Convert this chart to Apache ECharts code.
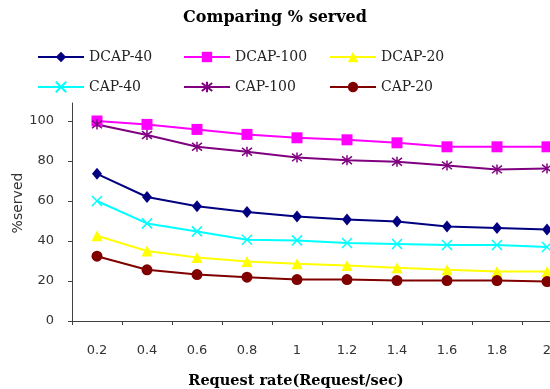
<!DOCTYPE html>
<html>
<head>
<meta charset="utf-8">
<script src="https://cdn.jsdelivr.net/npm/echarts@6/dist/echarts.min.js"></script>
<style>html,body{margin:0;padding:0;background:#fff;}#c{width:550px;height:389px;}</style>
</head>
<body>
<div id="c"></div>
<script>
const categories = ['0.2','0.4','0.6','0.8','1','1.2','1.4','1.6','1.8','2'];
const dcap40  = [73.6, 62.0, 57.4, 54.5, 52.2, 50.8, 49.7, 47.2, 46.5, 45.7];
const dcap100 = [100.0, 98.3, 95.8, 93.3, 91.6, 90.6, 89.1, 87.1, 87.1, 87.1];
const dcap20  = [42.6, 35.0, 31.8, 29.8, 28.6, 27.8, 26.6, 25.6, 24.7, 24.7];
const cap40   = [60.0, 48.8, 44.8, 40.6, 40.3, 39.0, 38.5, 38.0, 38.0, 37.0];
const cap100  = [98.3, 93.0, 87.1, 84.6, 81.8, 80.4, 79.6, 77.8, 75.8, 76.3];
const cap20   = [32.4, 25.6, 23.2, 21.9, 20.7, 20.7, 20.2, 20.2, 20.2, 19.7];
const yTicks = [0, 20, 40, 60, 80, 100];

const chart = echarts.init(document.getElementById('c'), null, {renderer: 'canvas'});

function mk(name, data, color, symbol, size, stroke) {
  return {
    name: name, type: 'line', data: data, symbol: symbol, symbolSize: size,
    showAllSymbol: true,
    lineStyle: {color: color, width: 2},
    itemStyle: stroke ? {color: color, borderColor: color, borderWidth: 1.5} : {color: color, borderWidth: 0},
    emphasis: {disabled: true},
    animation: false, z: 3
  };
}
const xPath = 'path://M0,0L10,10M10,0L0,10';
const starPath = 'path://M0,0L10,10M10,0L0,10M5,-1.5L5,11.5';

chart.setOption({
  backgroundColor: '#fff',
  animation: false,
  title: [
    {text: 'Comparing % served', left: 270, textAlign: 'center', top: 5,
     textStyle: {fontFamily: 'DejaVu Serif', fontWeight: 'bold', fontSize: 16, color: '#000'}},
    {text: 'Request rate(Request/sec)', left: 291, textAlign: 'center', top: 369,
     textStyle: {fontFamily: 'DejaVu Serif', fontWeight: 'bold', fontSize: 14.5, color: '#000'}}
  ],
  legend: {
    left: 37, top: 49, width: 440, padding: 0,
    itemWidth: 46, itemHeight: 13, itemGap: 14,
    textStyle: {fontFamily: 'DejaVu Serif', fontSize: 14, color: '#222', width: 80, lineHeight: 16},
    data: ['DCAP-40','DCAP-100','DCAP-20','CAP-40','CAP-100','CAP-20']
  },
  grid: {left: 72, top: 103, width: 500, height: 218, outerBoundsMode: 'none', containLabel: false},
  xAxis: {
    type: 'category', data: categories, boundaryGap: true,
    axisLine: {lineStyle: {color: '#404040', width: 1}},
    axisTick: {show: true, alignWithLabel: false, length: 4, lineStyle: {color: '#404040'}},
    axisLabel: {margin: 23, fontFamily: 'DejaVu Sans', fontSize: 13, color: '#333'},
    splitLine: {show: false}
  },
  yAxis: {
    type: 'value', min: 0, max: 109,
    name: '%served', nameLocation: 'middle', nameGap: 47, nameMoveOverlap: false,
    nameTextStyle: {fontFamily: 'DejaVu Sans', fontSize: 14, color: '#333', padding: [0, 0, 0, 18]},
    axisLine: {show: true, lineStyle: {color: '#404040', width: 1}},
    axisTick: {show: true, length: 4, customValues: yTicks, lineStyle: {color: '#404040'}},
    axisLabel: {margin: 18, fontFamily: 'DejaVu Sans', fontSize: 13, color: '#333', customValues: yTicks},
    splitLine: {show: false}
  },
  series: [
    mk('DCAP-40', dcap40, '#000080', 'diamond', [10, 12], false),
    mk('DCAP-100', dcap100, '#ff00ff', 'rect', 11, false),
    mk('DCAP-20', dcap20, '#ffff00', 'triangle', 11, false),
    mk('CAP-40', cap40, '#00ffff', xPath, 10, true),
    mk('CAP-100', cap100, '#800080', starPath, 10, true),
    mk('CAP-20', cap20, '#800000', 'circle', 11, false)
  ]
});
</script>
</body>
</html>
